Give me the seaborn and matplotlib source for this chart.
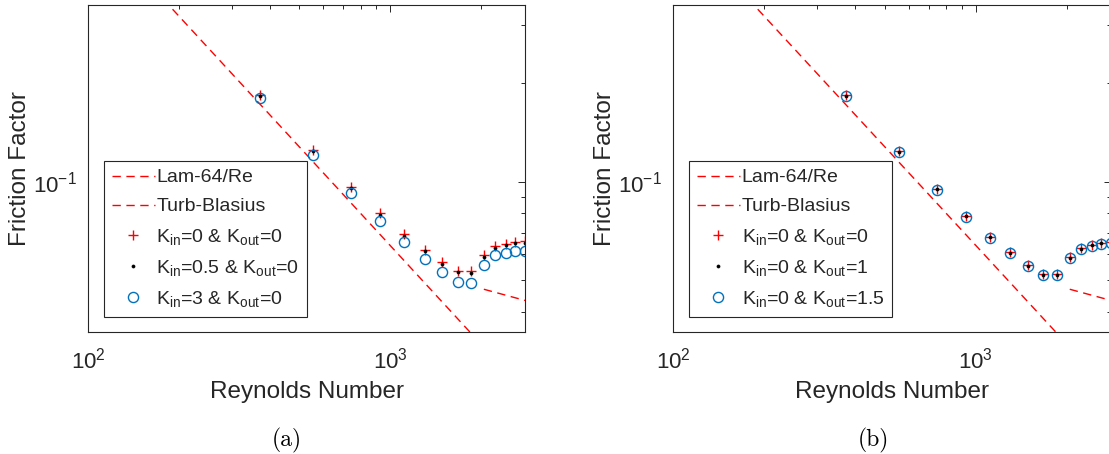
import numpy as np
import pandas as pd
import matplotlib
matplotlib.use("Agg")
import matplotlib.pyplot as plt
import seaborn as sns
from matplotlib.ticker import LogLocator, NullFormatter, LogFormatterMathtext

# ---------------- data ----------------
reynolds = [372, 558, 744, 930, 1116, 1302, 1488, 1674, 1860, 2046, 2232, 2418, 2604, 2790]

# panel (a)
fa_k0_0 = [0.1837, 0.1249, 0.0966, 0.0801, 0.0691, 0.0620, 0.0569, 0.0535, 0.0533, 0.0596, 0.0635, 0.0647, 0.0655, 0.0658]
fa_k05_0 = [0.1820, 0.1237, 0.0957, 0.0793, 0.0684, 0.0614, 0.0563, 0.0530, 0.0528, 0.0590, 0.0629, 0.0641, 0.0649, 0.0652]
fa_k3_0 = [0.1804, 0.1209, 0.0926, 0.0759, 0.0653, 0.0581, 0.0531, 0.0496, 0.0491, 0.0556, 0.0596, 0.0606, 0.0613, 0.0616]

# panel (b)
fb_k0_0 = [0.1834, 0.1241, 0.0952, 0.0788, 0.0680, 0.0609, 0.0558, 0.0523, 0.0522, 0.0588, 0.0627, 0.0642, 0.0651, 0.0653]
fb_k0_1 = [0.1825, 0.1235, 0.0947, 0.0784, 0.0677, 0.0606, 0.0555, 0.0520, 0.0519, 0.0585, 0.0624, 0.0639, 0.0648, 0.0650]
fb_k0_15 = [0.1821, 0.1232, 0.0945, 0.0782, 0.0675, 0.0605, 0.0554, 0.0519, 0.0518, 0.0584, 0.0623, 0.0638, 0.0647, 0.0649]

# theory curve ranges
lam_re_range = [100, 2300]
turb_re_range = [2046, 2800]

labels_a = ["Lam-64/Re", "Turb-Blasius",
            r"K$_{\mathdefault{in}}$=0 & K$_{\mathdefault{out}}$=0",
            r"K$_{\mathdefault{in}}$=0.5 & K$_{\mathdefault{out}}$=0",
            r"K$_{\mathdefault{in}}$=3 & K$_{\mathdefault{out}}$=0"]
labels_b = ["Lam-64/Re", "Turb-Blasius",
            r"K$_{\mathdefault{in}}$=0 & K$_{\mathdefault{out}}$=0",
            r"K$_{\mathdefault{in}}$=0 & K$_{\mathdefault{out}}$=1",
            r"K$_{\mathdefault{in}}$=0 & K$_{\mathdefault{out}}$=1.5"]

# ---------------- style ----------------
sns.set_style("white")
plt.rcParams["font.family"] = ["Liberation Sans", "DejaVu Sans"]
plt.rcParams["mathtext.fontset"] = "custom"
plt.rcParams["mathtext.rm"] = "Liberation Sans"
plt.rcParams["mathtext.it"] = "Liberation Sans:italic"
plt.rcParams["mathtext.default"] = "regular"
plt.rcParams["axes.unicode_minus"] = False

DARK = "#262626"
BLUE = "#0072BD"

W, H = 1109, 454
fig = plt.figure(figsize=(W / 100, H / 100), dpi=100)


def add_axes(l, t, r, b):
    return fig.add_axes([l / W, 1 - b / H, (r - l) / W, (b - t) / H])


def draw(ax, s1, s2, s3, labels, letter, letter_x):
    lam_re = np.geomspace(lam_re_range[0], lam_re_range[1], 50)
    turb_re = np.geomspace(turb_re_range[0], turb_re_range[1], 50)
    sns.lineplot(x=lam_re, y=64 / lam_re, ax=ax, color="red", lw=1.0,
                 linestyle=(0, (6, 4)), errorbar=None, label=labels[0])
    sns.lineplot(x=turb_re, y=0.316 / turb_re ** 0.25, ax=ax, color="red", lw=1.0,
                 linestyle=(0, (6, 4)), errorbar=None, label=labels[1])
    sns.lineplot(x=reynolds, y=s1, ax=ax, linestyle="", marker="+", markersize=6.5,
                 markeredgecolor="red", markeredgewidth=1.0, color="red",
                 errorbar=None, label=labels[2])
    sns.lineplot(x=reynolds, y=s2, ax=ax, linestyle="", marker="o", markersize=2.2,
                 markeredgecolor="black", markerfacecolor="black", markeredgewidth=0.5,
                 color="black", errorbar=None, label=labels[3])
    sns.lineplot(x=reynolds, y=s3, ax=ax, linestyle="", marker="o", markersize=7.3,
                 markeredgecolor=BLUE, markerfacecolor="none", markeredgewidth=1.0,
                 color=BLUE, errorbar=None, label=labels[4])

    ax.set_xscale("log")
    ax.set_yscale("log")
    ax.set_xlim(100, 2800)
    ax.set_ylim(0.0348, 0.346)

    for axis in (ax.xaxis, ax.yaxis):
        axis.set_major_locator(LogLocator(base=10))
        axis.set_minor_locator(LogLocator(base=10, subs=np.arange(2, 10)))
        axis.set_major_formatter(LogFormatterMathtext())
        axis.set_minor_formatter(NullFormatter())

    ax.tick_params(which="both", direction="in", top=True, right=True,
                   colors=DARK, labelsize=16, width=0.7)
    ax.tick_params(which="major", length=5)
    ax.tick_params(which="minor", length=3)
    ax.tick_params(axis="x", pad=11)
    ax.tick_params(axis="y", pad=8)
    for sp in ax.spines.values():
        sp.set_color(DARK)
        sp.set_linewidth(0.8)

    ax.set_xlabel("Reynolds Number", fontsize=17.5, color=DARK)
    ax.xaxis.set_label_coords(0.5, (332 - 392) / 327)
    ax.xaxis.label.set_va("center")
    ax.set_ylabel("Friction Factor", fontsize=17.5, color=DARK)
    ax.yaxis.set_label_coords((20 - 88) / 437, 0.5)
    ax.yaxis.label.set_va("center")

    handles, labs = ax.get_legend_handles_labels()
    leg = ax.legend(handles, labs, loc="lower left",
                    bbox_to_anchor=(16 / 437, 15 / 327), borderaxespad=0,
                    fontsize=14, frameon=True, fancybox=False, framealpha=1,
                    edgecolor=DARK, handlelength=2.2, handletextpad=0.1,
                    labelspacing=0.58, borderpad=0.4)
    leg.get_frame().set_linewidth(0.8)
    for t in leg.get_texts():
        t.set_color(DARK)

    fig.text(letter_x / W, 1 - 440 / H, letter, fontfamily="cmr10",
             fontsize=17, ha="center", va="center", color="black")


ax1 = add_axes(88, 5, 525, 332)
ax2 = add_axes(673, 5, 1111, 332)

draw(ax1, fa_k0_0, fa_k05_0, fa_k3_0, labels_a, "(a)", 287)
draw(ax2, fb_k0_0, fb_k0_1, fb_k0_15, labels_b, "(b)", 873)

fig.savefig("out.png", dpi=100)
